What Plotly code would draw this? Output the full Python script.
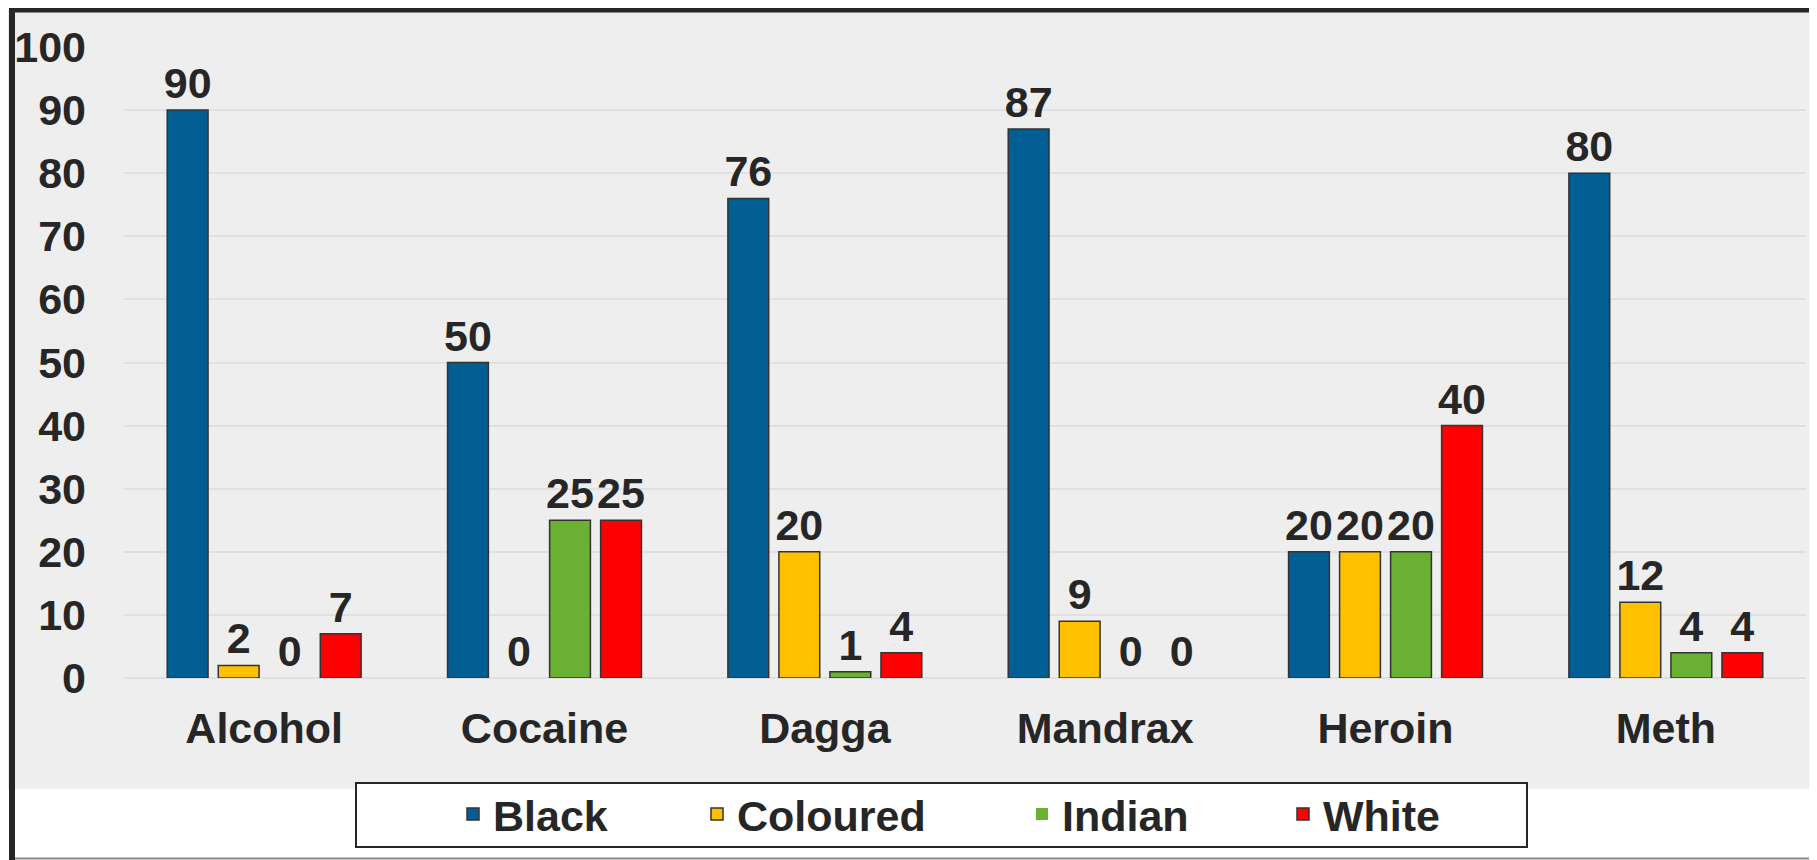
import plotly.graph_objects as go

categories = ["Alcohol", "Cocaine", "Dagga", "Mandrax", "Heroin", "Meth"]
black = [90, 50, 76, 87, 20, 80]
coloured = [2, 0, 20, 9, 20, 12]
indian = [0, 25, 1, 0, 20, 4]
white = [7, 25, 4, 0, 40, 4]
series_names = ["Black", "Coloured", "Indian", "White"]
series_values = [black, coloured, indian, white]
series_colors = ["#005E93", "#FFC000", "#6AB033", "#FF0000"]
y_ticks = list(range(0, 101, 10))

FONT = "Liberation Sans, Arial, sans-serif"
TXT = "#262626"
FS = 43

# page is 1817x860; the html body adds an 8px margin, so the figure is drawn
# at an (8, 8) offset and sized to fit the window.
OFF = 8
W, H = 1817 - OFF, 860 - OFF
ML, MR, MT, MB = 116, 11, 39, 182
PW, PH = W - ML - MR, H - MT - MB


def px_x(x):
    return (x - OFF - ML) / PW


def px_y(y):
    return (H - MB - (y - OFF)) / PH


legend_ids = ["legend", "legend2", "legend3", "legend4"]
legend_text_start = [493, 737, 1062, 1323]   # page px where each entry's text begins

fig = go.Figure()
for name, vals, col, lid in zip(series_names, series_values, series_colors, legend_ids):
    fig.add_trace(go.Bar(
        x=categories, y=vals, name=name, legend=lid,
        marker=dict(color=col,
                    line=dict(color="#333333",
                              width=[0 if v == 0 else 1.5 for v in vals])),
        text=vals, texttemplate="%{y}", textposition="outside",
        constraintext="none",
        textfont=dict(family=FONT, size=FS, color=TXT, weight="bold"),
        cliponaxis=False,
    ))

shapes = [
    # grey chart background
    dict(type="rect", xref="paper", yref="paper", layer="below",
         x0=px_x(OFF), x1=px_x(1817), y0=px_y(789), y1=px_y(OFF),
         fillcolor="#EEEEEE", line=dict(width=0)),
    # bottom grey rule
    dict(type="line", xref="paper", yref="paper",
         x0=px_x(12), x1=px_x(1817), y0=px_y(858.5), y1=px_y(858.5),
         line=dict(color="#8A8A8A", width=2)),
    # dark frame: left and top
    dict(type="line", xref="paper", yref="paper",
         x0=px_x(12), x1=px_x(12), y0=px_y(860), y1=px_y(7),
         line=dict(color="#262626", width=6)),
    dict(type="line", xref="paper", yref="paper",
         x0=px_x(9), x1=px_x(1817), y0=px_y(10), y1=px_y(10),
         line=dict(color="#262626", width=5)),
    # legend frame
    dict(type="rect", xref="paper", yref="paper", layer="above",
         x0=px_x(356), x1=px_x(1527), y0=px_y(847), y1=px_y(783),
         fillcolor="white", line=dict(color="#262626", width=2)),
]

layout_legends = {}
for lid, tx in zip(legend_ids, legend_text_start):
    layout_legends[lid] = dict(
        orientation="h", x=px_x(tx - 40), xanchor="left",
        y=px_y(814), yanchor="middle",
        bgcolor="rgba(0,0,0,0)", borderwidth=0,
        font=dict(family=FONT, size=FS, color=TXT, weight="bold"),
    )

fig.update_layout(
    width=W, height=H,
    margin=dict(l=ML, r=MR, t=MT, b=MB, autoexpand=False),
    paper_bgcolor="white", plot_bgcolor="#EEEEEE",
    barmode="group", bargap=0.272, bargroupgap=0.2,
    font=dict(family=FONT, size=FS, color=TXT, weight="bold"),
    showlegend=True,
    xaxis=dict(showgrid=False, showline=False, zeroline=False,
               tickfont=dict(family=FONT, size=FS, color=TXT, weight="bold"),
               ticklabelstandoff=21),
    yaxis=dict(range=[0, 100], tickvals=y_ticks, showgrid=True,
               gridcolor="#E0E0E0", gridwidth=2, zeroline=True,
               zerolinecolor="#E0E0E0", zerolinewidth=2, showline=False,
               tickfont=dict(family=FONT, size=FS, color=TXT, weight="bold"),
               ticklabelstandoff=37),
    shapes=shapes,
    **layout_legends,
)

fig.write_html("out.html")
